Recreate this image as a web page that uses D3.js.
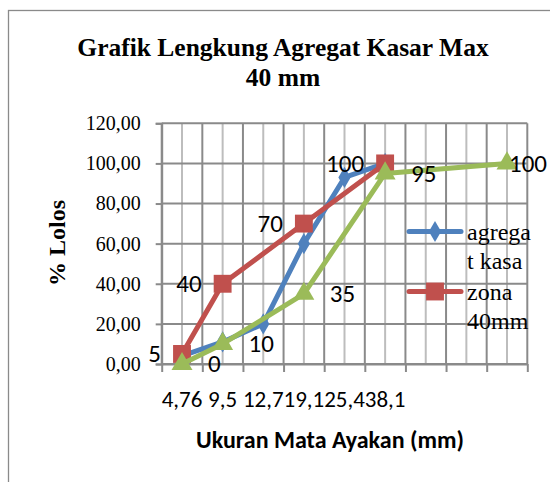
<!DOCTYPE html>
<html>
<head>
<meta charset="utf-8">
<script src="https://cdn.jsdelivr.net/npm/d3@7"></script>
<style>
  body { margin: 0; background: #fff; }
</style>
</head>
<body>
<div id="wrapper"></div>
<script>
// data
const categories = ["4,76", "9,5", "12,7", "19,1", "25,4", "38,1", "", "", ""];
const agregatKasar = [4, 11, 20, 60, 93, 100];
const zonaAtas = [5, 40, null, 70, null, 100];
const zonaBawah = [0, 10, null, 35, null, 95, null, null, 100];
const yTicks = [0, 20, 40, 60, 80, 100, 120];
const legendLines = [["agrega", "t kasa"], ["zona", "40mm"]];

const serif = "'Liberation Serif', 'Times New Roman', serif";
const sans = "Carlito, Calibri, Lato, sans-serif";

let dimension = {
    width: 550,
    height: 482,
    margin: { top: 123.3, left: 161.7, bottom: 118, right: 22.7 }
};
dimension.boundedWidth = dimension.width - dimension.margin.left - dimension.margin.right;
dimension.boundedHeight = dimension.height - dimension.margin.top - dimension.margin.bottom;

const wrapper = d3.select("#wrapper")
    .append("svg")
    .attr("width", dimension.width)
    .attr("height", dimension.height);

// chart border (only left / top are inside the window)
wrapper.append("rect")
    .attr("x", 8.5).attr("y", 10.5)
    .attr("width", 700).attr("height", 700)
    .attr("fill", "none")
    .attr("stroke", "#8a8a8a")
    .attr("stroke-width", 1.3);

// title
const title = wrapper.append("text")
    .attr("text-anchor", "middle")
    .attr("font-family", serif)
    .attr("font-weight", "bold")
    .attr("font-size", "25.5px")
    .attr("fill", "#000");
title.append("tspan").attr("x", 283).attr("y", 56).text("Grafik Lengkung Agregat Kasar Max");
title.append("tspan").attr("x", 283).attr("y", 86).text("40 mm");

const bounded = wrapper.append("g")
    .attr("transform", `translate(${dimension.margin.left},${dimension.margin.top})`);

const xScaler = d3.scaleBand()
    .domain(d3.range(categories.length))
    .range([0, dimension.boundedWidth]);
const xEdge = d3.scaleLinear()
    .domain([0, categories.length])
    .range([0, dimension.boundedWidth]);
const yScaler = d3.scaleLinear()
    .domain([0, 120])
    .range([dimension.boundedHeight, 0]);
const cx = i => xScaler(i) + xScaler.bandwidth() / 2;

// gridlines
const grid = bounded.append("g");
grid.selectAll(".minor")
    .data(d3.range(categories.length))
    .join("line")
    .attr("x1", d => xEdge(d + 0.5)).attr("x2", d => xEdge(d + 0.5))
    .attr("y1", 0).attr("y2", dimension.boundedHeight)
    .attr("stroke", "#bdbdbd").attr("stroke-width", 2);
grid.selectAll(".major")
    .data(d3.range(categories.length + 1))
    .join("line")
    .attr("x1", d => xEdge(d)).attr("x2", d => xEdge(d))
    .attr("y1", 0).attr("y2", dimension.boundedHeight)
    .attr("stroke", "#8a8a8a").attr("stroke-width", 2);
grid.selectAll(".hline")
    .data(yTicks)
    .join("line")
    .attr("x1", 0).attr("x2", dimension.boundedWidth)
    .attr("y1", d => yScaler(d)).attr("y2", d => yScaler(d))
    .attr("stroke", "#8a8a8a").attr("stroke-width", 2);

// y axis
const yAxis = bounded.append("g")
    .call(d3.axisLeft(yScaler)
        .tickValues(yTicks)
        .tickSize(6)
        .tickPadding(15)
        .tickFormat(d => d.toFixed(2).replace(".", ",")));
yAxis.select(".domain").attr("stroke", "#8a8a8a").attr("stroke-width", 2);
yAxis.selectAll(".tick line").attr("stroke", "#8a8a8a").attr("stroke-width", 2);
yAxis.selectAll("text")
    .attr("font-family", serif)
    .attr("font-size", "20px")
    .attr("fill", "#000");

// x axis: tick marks on category edges, labels in the middle
const xTicks = bounded.append("g")
    .attr("transform", `translate(0,${dimension.boundedHeight})`)
    .call(d3.axisBottom(xEdge)
        .tickValues(d3.range(categories.length + 1))
        .tickSize(8)
        .tickSizeOuter(0)
        .tickFormat(""));
xTicks.select(".domain").attr("stroke", "#8a8a8a").attr("stroke-width", 2);
xTicks.selectAll(".tick line").attr("stroke", "#8a8a8a").attr("stroke-width", 2);

const xAxis = bounded.append("g")
    .attr("transform", `translate(0,${dimension.boundedHeight})`)
    .call(d3.axisBottom(xScaler)
        .tickSize(0)
        .tickPadding(27)
        .tickFormat(i => categories[i]));
xAxis.select(".domain").remove();
xAxis.selectAll("text")
    .attr("font-family", sans)
    .attr("font-size", "23px")
    .attr("fill", "#000");

// axis titles
wrapper.append("text")
    .attr("x", 330).attr("y", 448)
    .attr("text-anchor", "middle")
    .attr("font-family", sans)
    .attr("font-weight", "bold")
    .attr("font-size", "24px")
    .text("Ukuran Mata Ayakan (mm)");

wrapper.append("text")
    .attr("transform", "translate(57,243) rotate(-90)")
    .attr("text-anchor", "middle")
    .attr("dy", "0.35em")
    .attr("font-family", serif)
    .attr("font-weight", "bold")
    .attr("font-size", "24px")
    .text("% Lolos");

// series
const toPoints = arr => arr.map((v, i) => ({ i, v })).filter(d => d.v !== null);
const lineGen = d3.line()
    .x(d => cx(d.i))
    .y(d => yScaler(d.v));

const series = [
    { values: agregatKasar, color: "#4F81BD", marker: d3.symbolDiamond, size: 130, labels: null },
    { values: zonaAtas, color: "#C0504D", marker: d3.symbolSquare, size: 320, labels: "left" },
    { values: zonaBawah, color: "#9BBB59", marker: d3.symbolTriangle, size: 190, labels: "right" }
];

series.forEach(s => {
    const pts = toPoints(s.values);
    const g = bounded.append("g");
    g.append("path")
        .datum(pts)
        .attr("d", lineGen)
        .attr("fill", "none")
        .attr("stroke", s.color)
        .attr("stroke-width", 5)
        .attr("stroke-linejoin", "round")
        .attr("stroke-linecap", "round");
    g.selectAll("path.m")
        .data(pts)
        .join("path")
        .attr("class", "m")
        .attr("d", d3.symbol().type(s.marker).size(s.size))
        .attr("transform", d => `translate(${cx(d.i)},${yScaler(d.v)})`)
        .attr("fill", s.color);
});

// data labels
const labelLayer = bounded.append("g")
    .attr("font-family", sans)
    .attr("font-size", "25px")
    .attr("fill", "#000");
series.filter(s => s.labels).forEach(s => {
    labelLayer.selectAll(null)
        .data(toPoints(s.values))
        .join("text")
        .attr("y", d => yScaler(d.v))
        .attr("dy", "0.34em")
        .attr("text-anchor", s.labels === "left" ? "end" : "start")
        .text(d => d.v)
        .attr("x", function (d) {
            if (s.labels === "left") return cx(d.i) - 21;
            const w = this.getComputedTextLength();
            const maxX = dimension.width - 3 - dimension.margin.left;
            return Math.min(cx(d.i) + 26, maxX - w);
        });
});

// legend
const legend = wrapper.append("g");
const legendColors = [series[0], series[1]];
legendColors.forEach((s, k) => {
    const ly = 231.5 + k * 60;
    const item = legend.append("g");
    item.append("line")
        .attr("x1", 409).attr("x2", 461)
        .attr("y1", ly).attr("y2", ly)
        .attr("stroke", s.color)
        .attr("stroke-width", 5)
        .attr("stroke-linecap", "round");
    item.append("path")
        .attr("d", d3.symbol().type(s.marker).size(s.size))
        .attr("transform", `translate(435,${ly})`)
        .attr("fill", s.color);
    const txt = item.append("text")
        .attr("font-family", serif)
        .attr("font-size", "24px")
        .attr("fill", "#000");
    legendLines[k].forEach((t, j) => {
        txt.append("tspan").attr("x", 467).attr("y", ly + 8 + j * 29).text(t);
    });
});
</script>
</body>
</html>
